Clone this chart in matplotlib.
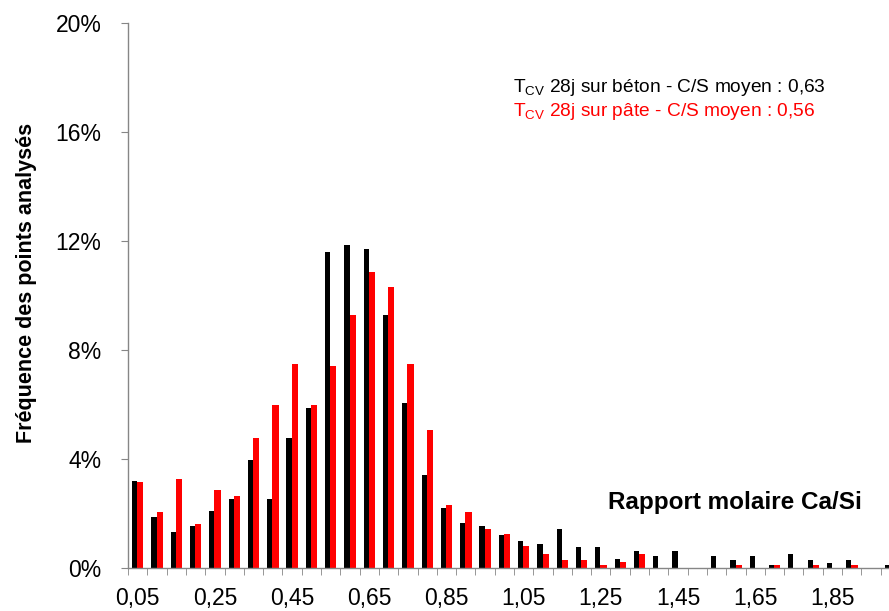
import matplotlib
matplotlib.use("Agg")
import matplotlib.pyplot as plt
import numpy as np

plt.rcParams['font.family'] = ['Liberation Sans', 'DejaVu Sans']
plt.rcParams['mathtext.fontset'] = 'custom'
plt.rcParams['mathtext.rm'] = 'Liberation Sans'
plt.rcParams['mathtext.it'] = 'Liberation Sans:italic'

# classes du rapport Ca/Si (0,05 a 2,00)
classes = [round(0.05 * (i + 1), 2) for i in range(40)]

# frequences (%) - TCV 28j sur beton
beton = [3.19, 1.87, 1.32, 1.54, 2.09, 2.53, 3.96, 2.53, 4.77, 5.87,
         11.6, 11.85, 11.7, 9.27, 6.07, 3.41, 2.21, 1.65, 1.55, 1.22,
         0.98, 0.88, 1.43, 0.77, 0.77, 0.32, 0.64, 0.43, 0.64, 0.0,
         0.43, 0.31, 0.43, 0.1, 0.53, 0.31, 0.2, 0.31, 0.0, 0.1]

# frequences (%) - TCV 28j sur pate
pate = [3.14, 2.04, 3.25, 1.63, 2.85, 2.64, 4.77, 6.0, 7.5, 5.98,
        7.4, 9.3, 10.85, 10.32, 7.49, 5.06, 2.33, 2.04, 1.43, 1.24,
        0.82, 0.51, 0.31, 0.31, 0.1, 0.21, 0.5, 0.0, 0.0, 0.0,
        0.0, 0.1, 0.0, 0.1, 0.0, 0.1, 0.0, 0.1, 0.0, 0.0]

yticks = [0, 4, 8, 12, 16, 20]

fig = plt.figure(figsize=(8.89, 6.11), dpi=100)
ax = fig.add_axes([128 / 889, 43 / 611, 772 / 889, 545 / 611])

x = np.arange(len(classes))
ax.bar(x - 0.29, beton, width=0.27, align='edge', color='black')
ax.bar(x - 0.02, pate, width=0.32, align='edge', color='#ff0000')

ax.set_xlim(-0.5, len(classes) - 0.5)
ax.set_ylim(0, 20)

gris = '#868686'
for s in ['top', 'right']:
    ax.spines[s].set_visible(False)
for s in ['left', 'bottom']:
    ax.spines[s].set_color(gris)
    ax.spines[s].set_linewidth(1.0)

ax.set_yticks(yticks)
ax.set_yticklabels([f"{v}%" for v in yticks])
ax.tick_params(axis='y', length=5, color=gris, labelsize=16.5, pad=14)

lab_idx = list(range(0, len(classes), 4))
ax.set_xticks(lab_idx)
ax.set_xticklabels([f"{classes[i]:.2f}".replace('.', ',') for i in lab_idx])
ax.set_xticks(np.arange(-0.5, len(classes), 1), minor=True)
ax.tick_params(axis='x', which='major', length=0, labelsize=16.5, pad=14)
ax.tick_params(axis='x', which='minor', length=5, color=gris)

fig.text(27 / 889, 1 - 283 / 611, "Fréquence des points analysés", rotation=90,
         fontsize=15.5, fontweight='bold', ha='center', va='center')
fig.text(862 / 889, 1 - 503 / 611, "Rapport molaire Ca/Si", fontsize=17.5,
         fontweight='bold', ha='right', va='center')

fig.text(513 / 889, 1 - 87 / 611,
         r"$\mathregular{T_{CV}}$ 28j sur béton - C/S moyen : 0,63",
         fontsize=13.8, color='black', ha='left', va='center')
fig.text(513 / 889, 1 - 112 / 611,
         r"$\mathregular{T_{CV}}$ 28j sur pâte - C/S moyen : 0,56",
         fontsize=13.8, color='#ff0000', ha='left', va='center')

fig.savefig("out.png", dpi=100)
